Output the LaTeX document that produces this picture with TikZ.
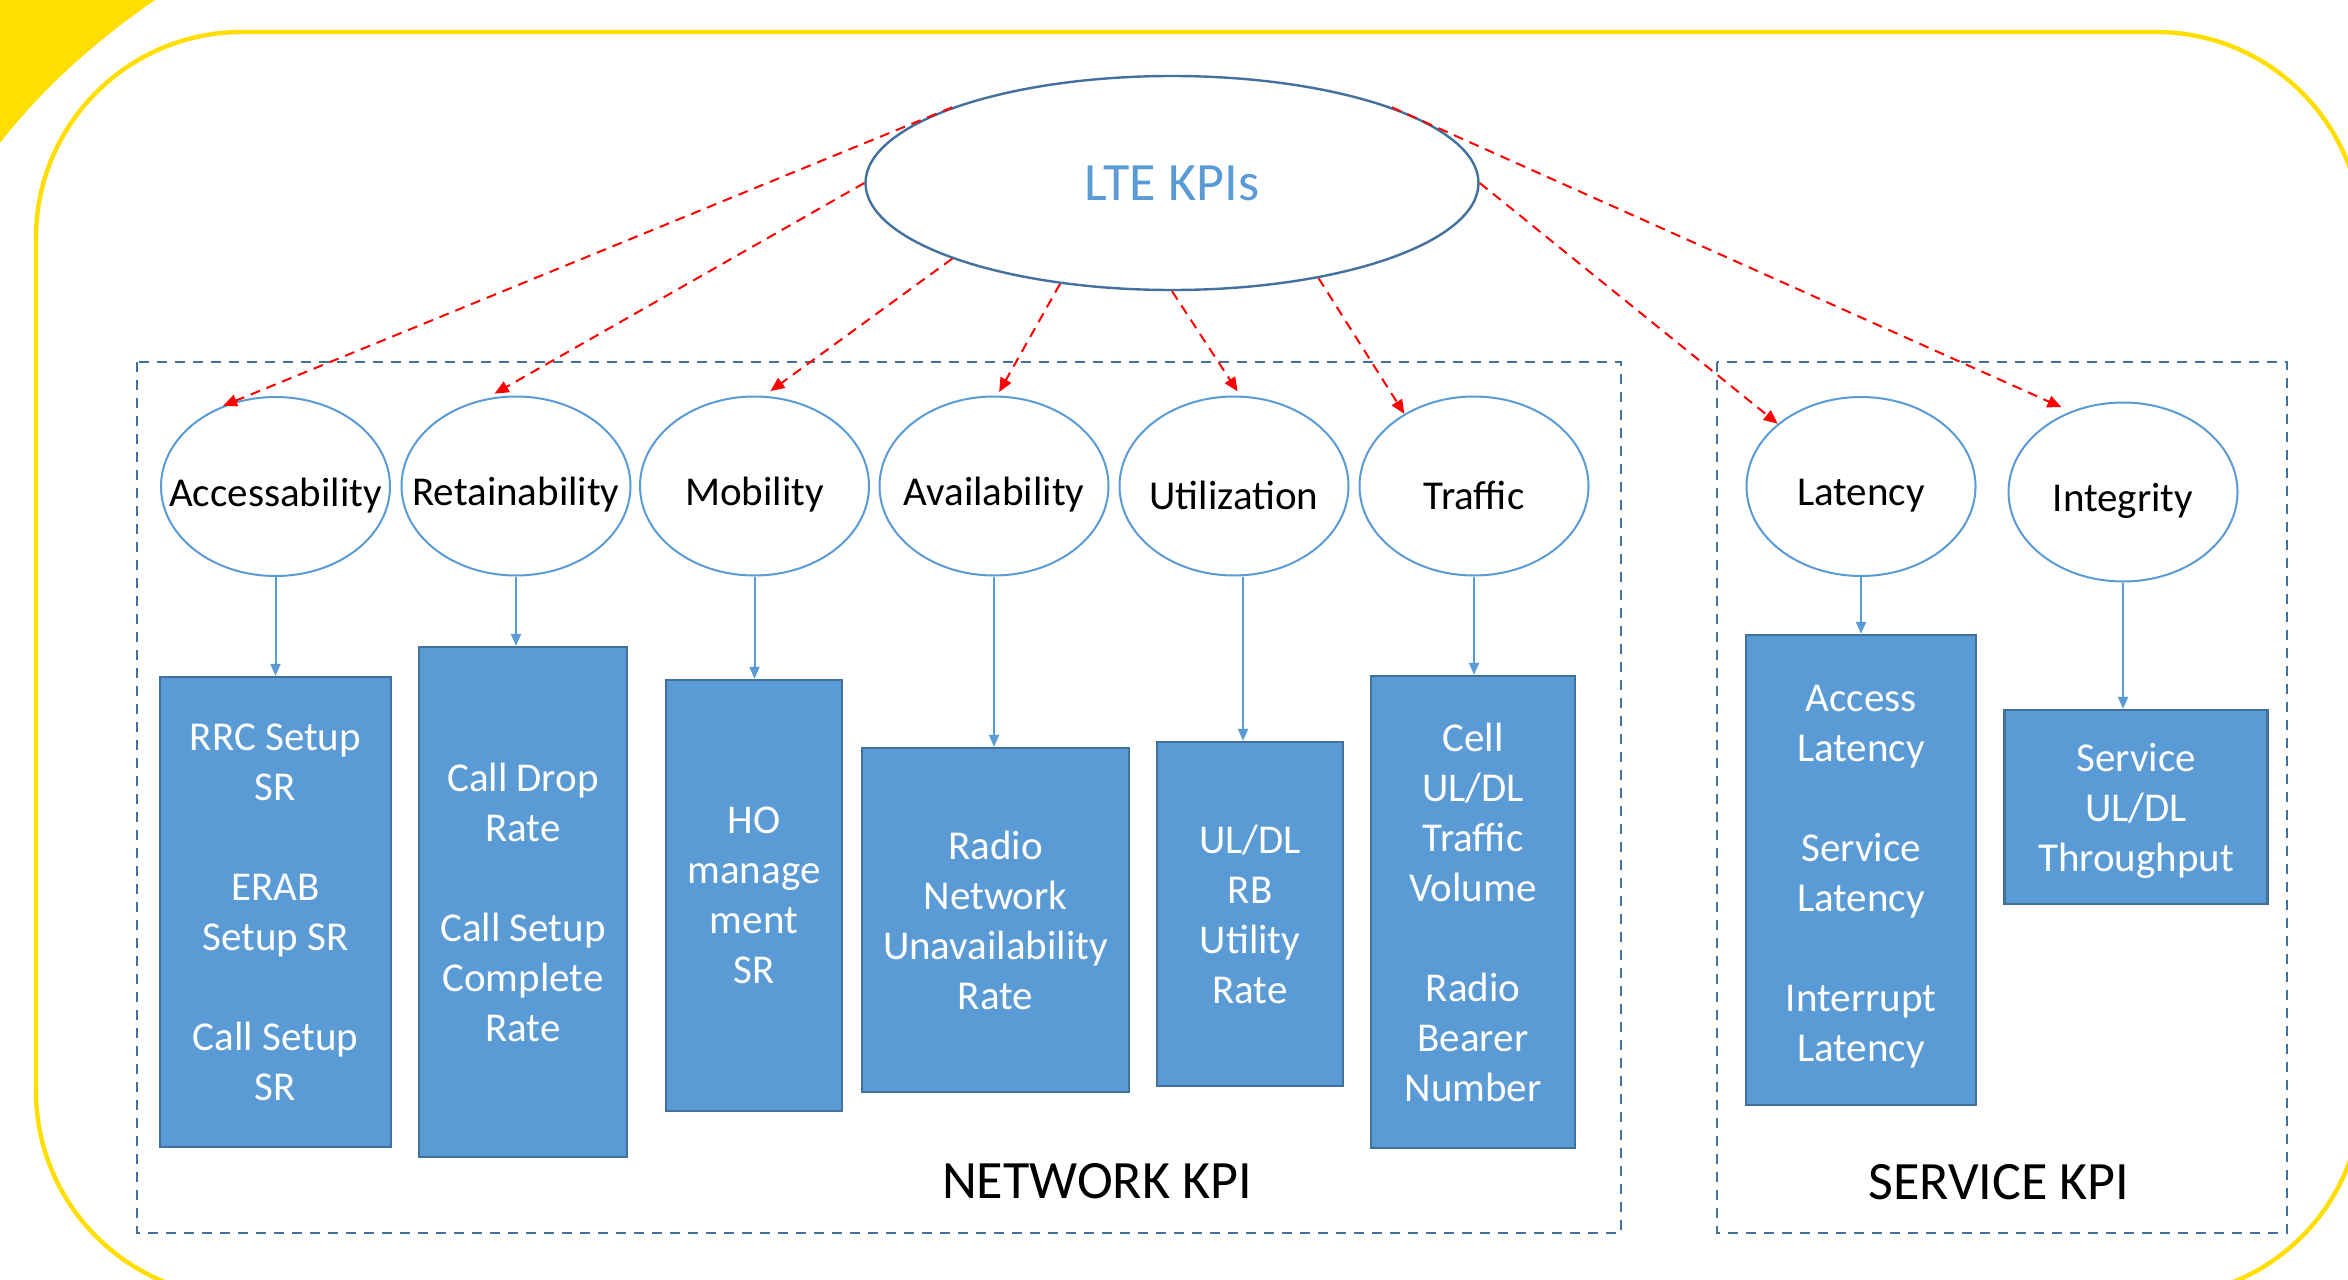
\documentclass[tikz,border=0pt]{standalone}
\usepackage{fontspec}
\setmainfont{Carlito}
\usetikzlibrary{arrows.meta,shapes.geometric}
\definecolor{kblue}{HTML}{5B9BD5}
\definecolor{kdark}{HTML}{41719C}
\definecolor{kyel}{HTML}{FFDE00}
\definecolor{kred}{HTML}{FF0000}
\begin{document}
\begin{tikzpicture}[x=0.5pt,y=-0.5pt,
  kpiell/.style={ellipse,draw=kblue,line width=1pt,minimum width=114.5pt,minimum height=89.5pt,inner sep=0pt},
  elltext/.style={font=\fontsize{20.5pt}{25pt}\selectfont,text=black,inner sep=0pt,yshift=-4.5pt},
  kbox/.style={rectangle,draw=kdark,fill=kblue,line width=1.2pt,text=white,align=center,inner sep=0pt,
     font=\fontsize{20.5pt}{25pt}\selectfont},
  boxtext/.style={text=white,align=center,inner sep=0pt,font=\fontsize{20.5pt}{25pt}\selectfont},
  groupbox/.style={draw=kdark,line width=1.2pt,dash pattern=on 5pt off 4pt},
  redarrow/.style={draw=kred,line width=1pt,dash pattern=on 5pt off 3.5pt,-{Triangle[length=7pt,width=6pt]}},
  bluearrow/.style={draw=kblue,line width=1pt,-{Triangle[length=6pt,width=5pt]}},
  grouplabel/.style={font=\fontsize{27pt}{32pt}\selectfont,text=black,inner sep=0pt}
]
\useasboundingbox (0,0) rectangle (2348,1279);
\clip (0,0) rectangle (2348,1279);
\fill[white] (0,0) rectangle (2348,1279);
% yellow decoration
\fill[kyel] (0,0) -- (155,0) .. controls (100,38) and (45,85) .. (0,143) -- cycle;
\draw[kyel,line width=2.2pt,rounded corners=103pt] (36,32) rectangle (2362,1297);

% group boxes
\draw[groupbox] (137,362) rectangle (1621,1233);
\draw[groupbox] (1717,362) rectangle (2287,1233);
\node[grouplabel] (netlbl) at (1097,1181) {NETWORK KPI};
\node[grouplabel] (svclbl) at (1999,1182) {SERVICE KPI};

% root
\node[ellipse,draw=kdark,line width=1.2pt,minimum width=306.5pt,minimum height=107pt,inner sep=0pt,
  text=kblue,font=\fontsize{27pt}{32pt}\selectfont] (lte) at (1172,183) {LTE KPIs};

% level-2 ellipses
\node[kpiell] (acc) at (275.5,486.5) {};
\node[kpiell] (ret) at (516,486) {};
\node[kpiell] (mob) at (754.5,486) {};
\node[kpiell] (ava) at (994,486) {};
\node[kpiell] (uti) at (1234,486) {};
\node[kpiell] (tra) at (1474,486) {};
\node[kpiell] (lat) at (1861,486.5) {};
\node[kpiell] (int) at (2123,492) {};
\node[elltext] (acc-t) at (acc) {Accessability};
\node[elltext] (ret-t) at (ret) {Retainability};
\node[elltext] (mob-t) at (mob) {Mobility};
\node[elltext] (ava-t) at (ava) {Availability};
\node[elltext] (uti-t) at (uti) {Utilization};
\node[elltext] (tra-t) at (tra) {Traffic};
\node[elltext] (lat-t) at (lat) {Latency};
\node[elltext] (int-t) at (int) {Integrity};

% boxes
\node[kbox,minimum width=115.5pt,minimum height=235pt] (b1) at (275.5,912)
  {RRC Setup\\SR\\[25pt]ERAB\\Setup SR\\[25pt]Call Setup\\SR};
\node[kbox,minimum width=104pt,minimum height=255pt] (b2) at (523,902)
  {Call Drop\\Rate\\[25pt]Call Setup\\Complete\\Rate};
\node[kbox,minimum width=88pt,minimum height=215.5pt] (b3) at (754,895.5)
  {HO\\manage\\ment\\SR};
\node[kbox,minimum width=133.5pt,minimum height=172pt] (b4) at (995.5,920)
  {Radio\\Network\\Unavailability\\Rate};
\node[kbox,minimum width=93pt,minimum height=172pt] (b5) at (1250,914)
  {UL/DL\\RB\\Utility\\Rate};
\node[kbox,minimum width=102pt,minimum height=236pt] (b6) at (1473,912)
  {Cell\\UL/DL\\Traffic\\Volume\\[25pt]Radio\\Bearer\\Number};
\node[kbox,minimum width=115pt,minimum height=235pt] (b7) at (1861,870) {};
\node[boxtext,yshift=-3.5pt] (b7-t) at (b7)
  {Access\\Latency\\[25pt]Service\\Latency\\[25pt]Interrupt\\Latency};
\node[kbox,minimum width=131.5pt,minimum height=97pt] (b8) at (2136,807) {};
\node[boxtext,yshift=-2.2pt] (b8-t) at (b8)
  {Service\\UL/DL\\Throughput};

% blue connectors
\draw[bluearrow] (acc.south) -- (acc.south |- b1.north);
\draw[bluearrow] (ret.south) -- (ret.south |- b2.north);
\draw[bluearrow] (mob.south) -- (mob.south |- b3.north);
\draw[bluearrow] (ava.south) -- (ava.south |- b4.north);
\draw[bluearrow] ([xshift=4.5pt]uti.south) -- ([xshift=4.5pt]uti.south |- b5.north);
\draw[bluearrow] (tra.south) -- (tra.south |- b6.north);
\draw[bluearrow] (lat.south) -- (lat.south |- b7.north);
\draw[bluearrow] (int.south) -- (int.south |- b8.north);

% red dashed connectors
\draw[redarrow] (lte.161) -- (acc.123);
\draw[redarrow,shorten >=5pt] (lte.180) -- (ret.109);
\draw[redarrow,shorten >=4pt] (lte.199) -- (mob.84);
\draw[redarrow,shorten >=2pt] (lte.222) -- (ava.88);
\draw[redarrow,shorten >=2.5pt] (lte.270) -- (uti.86);
\draw[redarrow] (lte.327) -- (tra.134);
\draw[redarrow] (lte.0) -- (lat.143);
\draw[redarrow,shorten >=5pt] (lte.19) -- (int.123);
\end{tikzpicture}
\end{document}
